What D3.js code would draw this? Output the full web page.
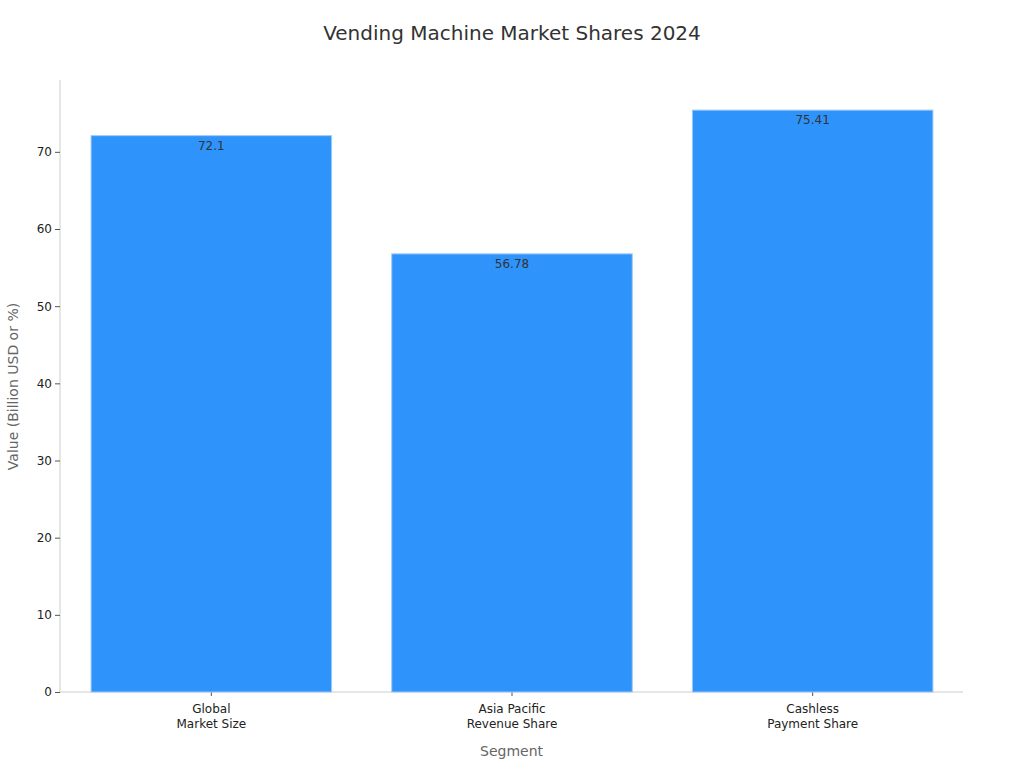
<!DOCTYPE html>
<html><head><meta charset="utf-8">
<script src="https://cdn.jsdelivr.net/npm/d3@7"></script>
<style>body{margin:0;background:#fff}svg{display:block;font-family:"DejaVu Sans",sans-serif}</style>
</head><body>
<svg id="c" width="1024" height="768"></svg>
<script>
const categories = [["Global","Market Size"],["Asia Pacific","Revenue Share"],["Cashless","Payment Share"]];
const values = [72.1, 56.78, 75.41];
const labels = ["72.1","56.78","75.41"];
const yTicks = [0,10,20,30,40,50,60,70];

const svg = d3.select("#c");
const m = {l:60, r:61, t:81, b:76};
const W = 1024, H = 768;
const keys = categories.map((c,i)=>String(i));
const x = d3.scaleBand().domain(keys).range([m.l+1, W-m.r]).paddingInner(0.2).paddingOuter(0.1);
const y = d3.scaleLinear().domain([0, d3.max(values)*1.05]).range([H-m.b, m.t]);

svg.append("text").attr("x",512).attr("y",40).attr("text-anchor","middle")
  .attr("font-size",20).attr("fill","#333").text("Vending Machine Market Shares 2024");

const ya = svg.append("g").attr("transform",`translate(${m.l},0)`)
  .call(d3.axisLeft(y).tickValues(yTicks).tickSize(5).tickPadding(3));
ya.select(".domain").attr("stroke","#ccc").attr("d",`M0,${H-m.b}V${m.t-1}`);
ya.selectAll(".tick line").attr("stroke","#555");
ya.selectAll(".tick text").attr("font-size",12).attr("fill","#222").attr("font-family","DejaVu Sans");

const xa = svg.append("g").attr("transform",`translate(0,${H-m.b})`)
  .call(d3.axisBottom(x).tickSize(4).tickSizeOuter(0).tickFormat(""));
xa.select(".domain").attr("stroke","#ccc").attr("d",`M${m.l},0H${W-m.r}`);
xa.selectAll(".tick line").attr("stroke","#555");
xa.selectAll(".tick").each(function(d,i){
  const t = d3.select(this).append("text").attr("fill","#222").attr("font-size",12)
    .attr("text-anchor","middle").attr("font-family","DejaVu Sans");
  categories[i].forEach((s,j)=>t.append("tspan").attr("x",0).attr("y",21+j*15).text(s));
});

svg.selectAll("rect.bar").data(values).join("rect").attr("class","bar")
  .attr("x",(d,i)=>x(keys[i])).attr("width",x.bandwidth())
  .attr("y",d=>y(d)).attr("height",d=>y(0)-y(d))
  .attr("fill","#2E93FA").attr("stroke","#9fcbf7").attr("stroke-width",1);

svg.selectAll("text.val").data(values).join("text").attr("class","val")
  .attr("x",(d,i)=>x(keys[i])+x.bandwidth()/2).attr("y",d=>y(d)+14)
  .attr("text-anchor","middle").attr("font-size",12).attr("fill","#333")
  .text((d,i)=>labels[i]);

svg.append("text").attr("x",(m.l+W-m.r)/2).attr("y",756).attr("text-anchor","middle")
  .attr("font-size",14).attr("fill","#666").text("Segment");
svg.append("text").attr("transform",`translate(18,${(m.t+H-m.b)/2}) rotate(-90)`)
  .attr("text-anchor","middle").attr("font-size",14).attr("fill","#666").text("Value (Billion USD or %)");
</script>
</body></html>
